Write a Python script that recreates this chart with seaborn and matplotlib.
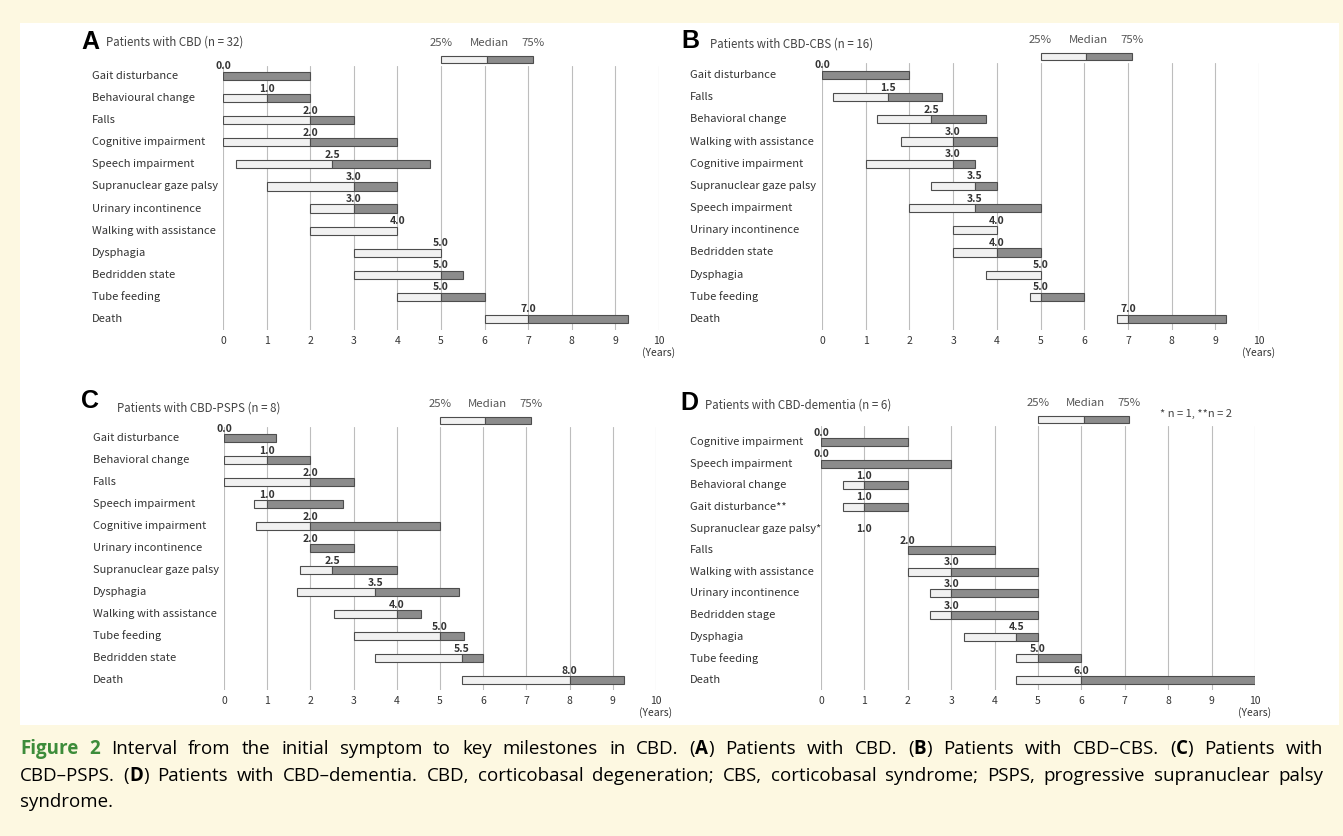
import matplotlib
matplotlib.use('Agg')
import matplotlib.pyplot as plt
import matplotlib.transforms as mtransforms
from matplotlib import font_manager
from matplotlib.patches import Rectangle
import seaborn as sns

sns.set_theme(style='white')
plt.rcParams['font.family'] = ['Noto Sans CJK JP', 'DejaVu Sans']

W, H = 1343, 836

# ---- data: (25%, median, 75%) in years from initial symptom ----
a_labels = ['Gait disturbance', 'Behavioural change', 'Falls', 'Cognitive impairment',
            'Speech impairment', 'Supranuclear gaze palsy', 'Urinary incontinence',
            'Walking with assistance', 'Dysphagia', 'Bedridden state', 'Tube feeding', 'Death']
a_q1 = [0.0, 0.0, 0.0, 0.0, 0.3, 1.0, 2.0, 2.0, 3.0, 3.0, 4.0, 6.0]
a_med = [0.0, 1.0, 2.0, 2.0, 2.5, 3.0, 3.0, 4.0, 5.0, 5.0, 5.0, 7.0]
a_q3 = [2.0, 2.0, 3.0, 4.0, 4.75, 4.0, 4.0, 4.0, 5.0, 5.5, 6.0, 9.3]

b_labels = ['Gait disturbance', 'Falls', 'Behavioral change', 'Walking with assistance',
            'Cognitive impairment', 'Supranuclear gaze palsy', 'Speech impairment',
            'Urinary incontinence', 'Bedridden state', 'Dysphagia', 'Tube feeding', 'Death']
b_q1 = [0.0, 0.25, 1.25, 1.8, 1.0, 2.5, 2.0, 3.0, 3.0, 3.75, 4.75, 6.75]
b_med = [0.0, 1.5, 2.5, 3.0, 3.0, 3.5, 3.5, 4.0, 4.0, 5.0, 5.0, 7.0]
b_q3 = [2.0, 2.75, 3.75, 4.0, 3.5, 4.0, 5.0, 4.0, 5.0, 5.0, 6.0, 9.25]

c_labels = ['Gait disturbance', 'Behavioral change', 'Falls', 'Speech impairment',
            'Cognitive impairment', 'Urinary incontinence', 'Supranuclear gaze palsy',
            'Dysphagia', 'Walking with assistance', 'Tube feeding', 'Bedridden state', 'Death']
c_q1 = [0.0, 0.0, 0.0, 0.7, 0.75, 2.0, 1.75, 1.7, 2.55, 3.0, 3.5, 5.5]
c_med = [0.0, 1.0, 2.0, 1.0, 2.0, 2.0, 2.5, 3.5, 4.0, 5.0, 5.5, 8.0]
c_q3 = [1.2, 2.0, 3.0, 2.75, 5.0, 3.0, 4.0, 5.45, 4.55, 5.55, 6.0, 9.25]

d_labels = ['Cognitive impairment', 'Speech impairment', 'Behavioral change',
            'Gait disturbance**', 'Supranuclear gaze palsy*', 'Falls',
            'Walking with assistance', 'Urinary incontinence', 'Bedridden stage',
            'Dysphagia', 'Tube feeding', 'Death']
d_q1 = [0.0, 0.0, 0.5, 0.5, 1.0, 2.0, 2.0, 2.5, 2.5, 3.3, 4.5, 4.5]
d_med = [0.0, 0.0, 1.0, 1.0, 1.0, 2.0, 3.0, 3.0, 3.0, 4.5, 5.0, 6.0]
d_q3 = [2.0, 3.0, 2.0, 2.0, 1.0, 4.0, 5.0, 5.0, 5.0, 5.0, 6.0, 10.0]

legend_key = [5.0, 6.05, 7.1]
legend_text = ['25%', 'Median', '75%']
legend_text_x = [5.0, 6.1, 7.1]
years = list(range(11))

caption_lines = [
    '~Figure 2~ Interval from the initial symptom to key milestones in CBD. (*A*) Patients with '
    'CBD. (*B*) Patients with CBD\u2013CBS. (*C*) Patients with',
    'CBD\u2013PSPS. (*D*) Patients with CBD\u2013dementia. CBD, corticobasal degeneration; CBS, '
    'corticobasal syndrome; PSPS, progressive supranuclear palsy',
    'syndrome.',
]

# ---- styling ----
LIGHT = '#f1f1f1'
DARK = '#8c8c8c'
EDGE = '#4d4d4d'
GRID = '#bdbdbd'
TXT = '#333333'
CREAM = '#fdf8e1'
GREEN = '#3d8c3a'

# panel geometry in pixels: x of 0 and 10 years, grid top/bottom, first/last row centre
panels = [
    dict(letter='A', sub='Patients with CBD (n = 32)', labels=a_labels, q1=a_q1, med=a_med, q3=a_q3,
         x0=223, x10=659, top=66, bot=330, r0=76, r1=319, lab_x=92,
         let_xy=(81, 42), sub_xy=(106, 42)),
    dict(letter='B', sub='Patients with CBD-CBS (n = 16)', labels=b_labels, q1=b_q1, med=b_med, q3=b_q3,
         x0=822, x10=1259, top=63, bot=330, r0=75, r1=319, lab_x=690,
         let_xy=(681, 41), sub_xy=(710, 44)),
    dict(letter='C', sub='Patients with CBD-PSPS (n = 8)', labels=c_labels, q1=c_q1, med=c_med, q3=c_q3,
         x0=224, x10=656, top=427, bot=690, r0=438, r1=680, lab_x=93,
         let_xy=(81, 401), sub_xy=(117, 408)),
    dict(letter='D', sub='Patients with CBD-dementia (n = 6)', labels=d_labels, q1=d_q1, med=d_med, q3=d_q3,
         x0=821, x10=1255, top=426, bot=690, r0=442, r1=680, lab_x=690,
         let_xy=(680, 403), sub_xy=(705, 405)),
]

fig = plt.figure(figsize=(W / 100, H / 100), dpi=100)
fig.patch.set_facecolor(CREAM)
fig.patches.append(Rectangle((20 / W, 1 - 725 / H), (1339 - 20) / W, (725 - 23) / H,
                             transform=fig.transFigure, facecolor='white',
                             edgecolor='none', zorder=-5))

BAR_H = 0.37

for p in panels:
    ax = fig.add_axes([p['x0'] / W, 1 - p['bot'] / H, (p['x10'] - p['x0']) / W,
                       (p['bot'] - p['top']) / H])
    ax.set_facecolor('none')
    n = len(p['labels'])
    step = (p['r1'] - p['r0']) / (n - 1)

    def row(ypix, p=p, step=step):
        return (ypix - p['r0']) / step

    ax.set_xlim(0, 10)
    ax.set_ylim(row(p['bot']), row(p['top']))
    sns.despine(ax=ax, left=True, bottom=True)
    ax.set_xticks(years)
    ax.set_yticks([])
    ax.grid(axis='x', color=GRID, linewidth=0.8)
    ax.grid(axis='y', visible=False)
    ax.set_axisbelow(True)
    ax.tick_params(axis='x', length=0, pad=4, labelsize=7.5, labelcolor=TXT)

    lab_tr = mtransforms.blended_transform_factory(fig.transFigure, ax.transData)
    for i, (lab, lo, m, hi) in enumerate(zip(p['labels'], p['q1'], p['med'], p['q3'])):
        ax.text(p['lab_x'] / W, i, lab, transform=lab_tr, ha='left', va='center',
                fontsize=8, color=TXT)
        if m > lo:
            ax.barh(i, m - lo, left=lo, height=BAR_H, color=LIGHT, edgecolor=EDGE, linewidth=0.8)
        if hi > m:
            ax.barh(i, hi - m, left=m, height=BAR_H, color=DARK, edgecolor=EDGE, linewidth=0.8)
        if hi > lo:
            ax.annotate(f'{m:.1f}', (m, i - BAR_H / 2), xytext=(0, 0.3), textcoords='offset points',
                        ha='center', va='bottom', fontsize=7.5, fontweight='bold', color=TXT)
        else:
            ax.text(m, i, f'{m:.1f}', ha='center', va='center', fontsize=7.5,
                    fontweight='bold', color=TXT)

    # key bar above the grid
    ky = row(p['top'] - 6.5)
    ax.barh(ky, legend_key[1] - legend_key[0], left=legend_key[0], height=BAR_H * 0.9,
            color=LIGHT, edgecolor=EDGE, linewidth=0.8, clip_on=False)
    ax.barh(ky, legend_key[2] - legend_key[1], left=legend_key[1], height=BAR_H * 0.9,
            color=DARK, edgecolor=EDGE, linewidth=0.8, clip_on=False)
    for lx, lt in zip(legend_text_x, legend_text):
        ax.text(lx, row(p['top'] - 23), lt, ha='center', va='center', fontsize=8.2,
                color='#555555', clip_on=False)

    ax.text(10, row(p['bot'] + 23), '(Years)', ha='center', va='center', fontsize=7.5,
            color=TXT, clip_on=False)

    fig.text(p['let_xy'][0] / W, 1 - p['let_xy'][1] / H, p['letter'], fontsize=18,
             fontweight='bold', color='black', ha='left', va='center',
             family=['Liberation Sans', 'DejaVu Sans'])
    fig.text(p['sub_xy'][0] / W, 1 - p['sub_xy'][1] / H, p['sub'], fontsize=8.3,
             color='#444444', ha='left', va='center')

fig.text(1196 / W, 1 - 414 / H, '* n = 1, **n = 2', fontsize=8, color='#444444',
         ha='center', va='center')

# ---- caption, justified word by word ----
cap_font = 'Open Sans'
for cand in ['Liberation Sans Narrow', 'Open Sans']:
    try:
        font_manager.findfont(cand, fallback_to_default=False)
        cap_font = cand
        break
    except Exception:
        pass
CAP_FONT = [cap_font, 'DejaVu Sans']


def parse(line):
    words, cur, piece, style = [], [], '', None
    for ch in line:
        if ch in '*~':
            if piece:
                cur.append((piece, style))
                piece = ''
            new = 'b' if ch == '*' else 'g'
            style = None if style == new else new
        elif ch == ' ':
            if piece:
                cur.append((piece, style))
                piece = ''
            if cur:
                words.append(cur)
                cur = []
        else:
            piece += ch
    if piece:
        cur.append((piece, style))
    if cur:
        words.append(cur)
    return words


renderer = fig.canvas.get_renderer()
cap_left, cap_right = 20, 1323
cap_y = [749, 776, 802]


def make_words(words, size, y):
    made, total = [], 0
    for w in words:
        pieces = []
        for txt, st in w:
            t = fig.text(0, 1 - y / H, txt, fontsize=size, family=CAP_FONT,
                         fontweight='bold' if st else 'normal',
                         color=GREEN if st == 'g' else 'black', ha='left', va='center')
            wpx = t.get_window_extent(renderer).width
            pieces.append((t, wpx))
            total += wpx
        made.append(pieces)
    return made, total


# pick a size so the first line fills the width with ordinary word spacing
probe_words = parse(caption_lines[0])
probe, probe_total = make_words(probe_words, 10, 0)
for pieces in probe:
    for t, _ in pieces:
        t.remove()
space_ratio = 0.25 * 100 / 72
cap_size = (cap_right - cap_left) / (probe_total / 10 + space_ratio * (len(probe_words) - 1))
cap_size = min(cap_size, 13.5)

for li, line in enumerate(caption_lines):
    words = parse(line)
    made, total = make_words(words, cap_size, cap_y[li])
    justify = li < len(caption_lines) - 1
    if justify and len(made) > 1:
        gap = (cap_right - cap_left - total) / (len(made) - 1)
    else:
        gap = space_ratio * cap_size
    x = cap_left
    for pieces in made:
        for t, wpx in pieces:
            t.set_x(x / W)
            x += wpx
        x += gap

fig.savefig('out.png', dpi=100, facecolor=fig.get_facecolor())
